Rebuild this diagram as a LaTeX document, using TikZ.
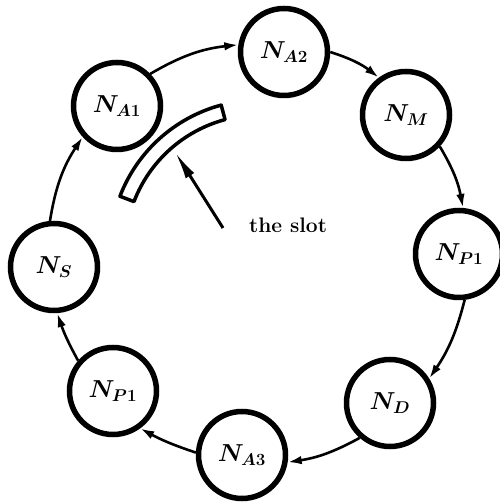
\documentclass[tikz,border=0pt]{standalone}
\usetikzlibrary{arrows.meta}
\newcommand{\ringlab}[1]{\scalebox{1.42}{$#1$}}
\begin{document}
\begin{tikzpicture}[x=1pt,y=1pt,
  ringnode/.style={circle, draw, line width=5.5pt, minimum size=87pt, inner sep=0pt,
    font=\fontsize{17.28}{20}\selectfont\boldmath},
  link/.style={line width=2.6pt, -{Latex[length=14pt,width=8.5pt]}},
  slotband/.style={line width=3.5pt, line join=round},
  pointer/.style={line width=3pt, -{Latex[length=28pt,width=10pt]}},
  slotlabel/.style={font=\fontsize{21}{25}\selectfont\bfseries, anchor=base, inner sep=0pt}
]
\useasboundingbox (0,0) rectangle (499,502);
\node[ringnode] (A1) at (117,396) {\ringlab{N_{A1}}};
\node[ringnode] (A2) at (284,450) {\ringlab{N_{A2}}};
\node[ringnode] (M)  at (406,387) {\ringlab{N_{M}}};
\node[ringnode] (P1R) at (459,248) {\ringlab{N_{P1}}};
\node[ringnode] (D)  at (390,99) {\ringlab{N_{D}}};
\node[ringnode] (A3) at (242,47) {\ringlab{N_{A3}}};
\node[ringnode] (P1L) at (113,111) {\ringlab{N_{P1}}};
\node[ringnode] (S)  at (54,235) {\ringlab{N_{S}}};

\draw[link] (A1.44) to[bend left=12] (A2.171);
\draw[link] (A2.0) to[bend left=10] (M.126);
\draw[link] (M.-43) to[bend left=10] (P1R.85);
\draw[link] (P1R.-83) to[bend left=10] (D.32);
\draw[link] (D.229) to[bend left=10] (A3.-9);
\draw[link] (A3.177) to[bend left=5] (P1L.-54);
\draw[link] (P1L.139) to[bend left=5] (S.-86);
\draw[link] (S.95) to[bend left=12] (A1.222);

\coordinate (sc) at (260,252);
\draw[slotband] ([shift={(105:150)}]sc) arc[start angle=105,end angle=159,radius=150]
  -- ([shift={(159:135)}]sc) arc[start angle=159,end angle=105,radius=135] -- cycle;

\node[slotlabel] (lbl) at (288,269) {the slot};
\coordinate (ps) at (223,274);
\coordinate (pt) at (175,350);
\draw[pointer] (ps) -- (pt);
\end{tikzpicture}
\end{document}
